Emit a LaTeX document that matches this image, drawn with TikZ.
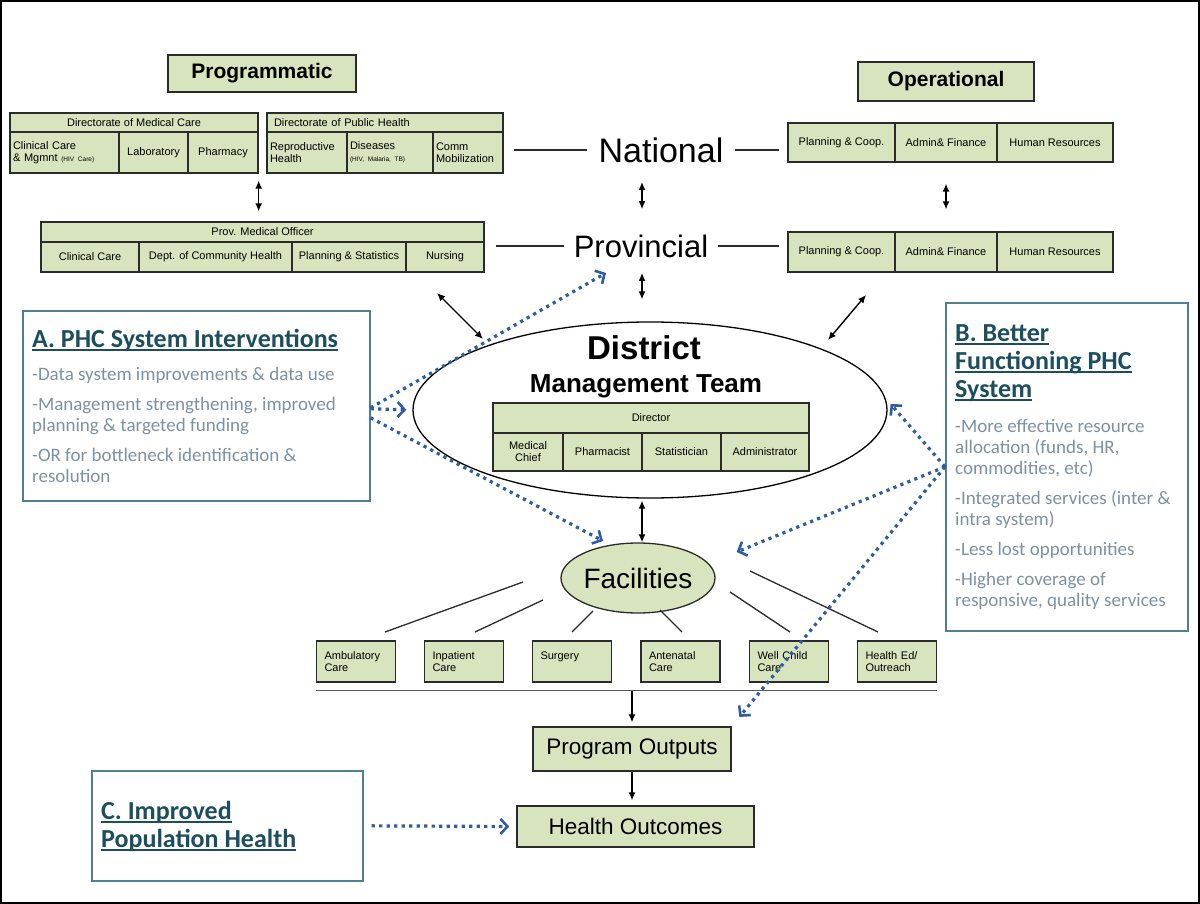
\documentclass[tikz,border=0pt]{standalone}
\usepackage{fontspec}
\setmainfont{Liberation Sans}
\newfontfamily\boxfont{Carlito}
\usetikzlibrary{arrows.meta,shapes.geometric,calc}

\definecolor{cellgreen}{HTML}{D7E4BD}
\definecolor{celledge}{HTML}{2B2B2B}
\definecolor{boxedge}{HTML}{50808F}
\definecolor{titleteal}{HTML}{1C4E5E}
\definecolor{bodygray}{HTML}{7D91A1}
\definecolor{dotblue}{HTML}{2F5D9E}

\newcommand{\smallprint}{\fontsize{6.5}{7}\selectfont}
\newcommand{\ulbar}[1]{\setbox0\hbox{#1}\rlap{\rule[-3.5pt]{\wd0}{1.6pt}}\box0}

\tikzset{
  cell/.style={draw=celledge, line width=1.3pt, fill=cellgreen, inner xsep=3pt, inner ysep=2pt,
    font=\fontsize{11}{12}\selectfont, align=center},
  svc/.style={cell, text width=63pt, minimum height=41pt, inner xsep=8pt, align=left,
    font=\fontsize{11}{12.5}\selectfont},
  heading/.style={draw=celledge, line width=1.8pt, fill=cellgreen, font=\fontsize{21}{24}\selectfont\bfseries},
  result/.style={draw=celledge, line width=1.5pt, fill=cellgreen, font=\fontsize{22.5}{24}\selectfont},
  infobox/.style={draw=boxedge, line width=1.6pt, anchor=north west},
  boxhead/.style={anchor=north west, inner sep=0pt, align=left, text=titleteal,
    font=\boxfont\bfseries\fontsize{26}{28}\selectfont},
  boxtext/.style={anchor=north west, inner sep=0pt, align=left, text=bodygray,
    font=\boxfont\fontsize{19}{21}\selectfont},
  level/.style={font=\fontsize{33}{35}\selectfont},
  dbl/.style={{Latex[length=8pt,width=7pt]}-{Latex[length=8pt,width=7pt]}, line width=1.4pt},
  down/.style={-{Latex[length=8pt,width=7pt]}, line width=1.2pt},
  tie/.style={line width=1.3pt, draw=celledge},
  dots/.style={dotblue, line width=3.2pt, dash pattern=on 3.2pt off 4.3pt,
    -{Straight Barb[length=7pt,width=15pt,line width=2.6pt]}},
}

\begin{document}
\begin{tikzpicture}[x=1pt,y=-1pt]
    \useasboundingbox (0,0) rectangle (1200,904);
    \draw[line width=1.5pt] (1,1) rectangle (1199,903);
    % headings
    \node[heading, minimum width=188pt, minimum height=37pt] at (262,73.5) (prog) {Programmatic};
    \node[heading, minimum width=176pt, minimum height=39pt] at (946,81.5) (oper) {Operational};
    % national, programmatic side
    \node[cell, minimum width=248pt, minimum height=19pt] at (134,122.5) (dmc) {Directorate of Medical Care};
    \node[cell, text width=103pt, minimum height=41pt, align=left] at (64.5,152.5) (dmc_clin) {Clinical Care\\\& Mgmnt {\smallprint (HIV Care)}};
    \node[cell, minimum width=69pt, minimum height=41pt] at (153.5,152.5) (dmc_lab) {Laboratory};
    \node[cell, minimum width=70pt, minimum height=41pt] at (223,152.5) (dmc_pharm) {Pharmacy};
    \node[cell, text width=222pt, minimum height=19pt, inner xsep=7pt, align=left] at (385,122.5) (dph) {Directorate of Public Health};
    \node[cell, text width=74pt, minimum height=41pt, align=left] at (307,152.5) (dph_repro) {Reproductive\\Health};
    \node[cell, text width=80pt, minimum height=41pt, align=left] at (390,152.5) (dph_dis) {Diseases\\{\smallprint (HIV, Malaria, TB)}};
    \node[cell, text width=64pt, minimum height=41pt, align=left] at (468,152.5) (dph_comm) {Comm\\Mobilization};
    % provincial, programmatic side
    \node[cell, minimum width=443pt, minimum height=20pt] at (262.5,232) (pmo) {Prov. Medical Officer};
    \node[cell, minimum width=98pt, minimum height=30pt] at (90,257) (pmo_clin) {Clinical Care};
    \node[cell, minimum width=153pt, minimum height=30pt] at (215.5,257) (pmo_comm) {Dept. of Community Health};
    \node[cell, minimum width=114pt, minimum height=30pt] at (349,257) (pmo_plan) {Planning \& Statistics};
    \node[cell, minimum width=78pt, minimum height=30pt] at (445,257) (pmo_nurs) {Nursing};
    % operational side
    \node[cell, minimum width=107pt, minimum height=39pt] at (841.5,142.5) (op_nat_plan) {Planning \& Coop.};
    \node[cell, minimum width=102pt, minimum height=39pt] at (946,142.5) (op_nat_admin) {Admin\& Finance};
    \node[cell, minimum width=116pt, minimum height=39pt] at (1055,142.5) (op_nat_hr) {Human Resources};
    \node[cell, minimum width=107pt, minimum height=40pt] at (841.5,252) (op_prov_plan) {Planning \& Coop.};
    \node[cell, minimum width=102pt, minimum height=40pt] at (946,252) (op_prov_admin) {Admin\& Finance};
    \node[cell, minimum width=116pt, minimum height=40pt] at (1055,252) (op_prov_hr) {Human Resources};
    % levels
    \node[level, font=\fontsize{34}{36}\selectfont] at (661,150) (national) {National};
    \node[level, font=\fontsize{31}{33}\selectfont] at (641,246) (provincial) {Provincial};
    \draw[tie, shorten <=10pt, shorten >=8pt] (dph_comm.east |- national) -- (national.west);
    \draw[tie, shorten <=8pt, shorten >=8pt] (national.east) -- (op_nat_plan.west |- national);
    \draw[tie, shorten <=11pt, shorten >=6pt] (pmo_nurs.east |- provincial) -- (provincial.west);
    \draw[tie, shorten <=6pt, shorten >=8pt] (provincial.east) -- (op_prov_plan.west |- provincial);
    % district
    \node[draw, line width=1.3pt, ellipse, minimum width=474pt, minimum height=176pt] at (650,410) (district) {};
    \node[font=\fontsize{33}{35}\selectfont\bfseries] at (644,348) (dist_lbl) {District};
    \node[font=\fontsize{26}{28}\selectfont\bfseries] at (646,386) (mgmt_lbl) {Management Team};
    \node[cell, minimum width=316pt, minimum height=30pt] at (651,418) (dir) {Director};
    \node[cell, minimum width=70pt, minimum height=38pt] at (528,452) (dir_med) {Medical\\Chief};
    \node[cell, minimum width=79pt, minimum height=38pt] at (602.5,452) (dir_pharm) {Pharmacist};
    \node[cell, minimum width=79pt, minimum height=38pt] at (681.5,452) (dir_stat) {Statistician};
    \node[cell, minimum width=88pt, minimum height=38pt] at (765,452) (dir_admin) {Administrator};
    % facilities and services
    \node[draw=celledge, line width=1.3pt, fill=cellgreen, ellipse, minimum width=150pt, minimum height=70pt,
      inner sep=0pt, font=\fontsize{28}{30}\selectfont] at (638,578) (facilities) {Facilities};
    \node[svc] at (356,661.5) (svc_amb) {Ambulatory\\Care};
    \node[svc] at (464,661.5) (svc_inp) {Inpatient\\Care};
    \node[svc] at (572,661.5) (svc_surg) {Surgery\\~};
    \node[svc] at (680.5,661.5) (svc_ante) {Antenatal\\Care};
    \node[svc] at (789,661.5) (svc_well) {Well Child\\Care};
    \node[svc] at (897,661.5) (svc_hed) {Health Ed/\\Outreach};
    \foreach \xa/\ya/\xb/\yb in {523/582/385/632, 543/600/475/632, 593/611/572/632,
                                  660/610/682/632, 730/592/790/632, 750/571/878/632}
      \draw[tie] (\xa,\ya) -- (\xb,\yb);
    \coordinate (rule_l) at ([yshift=-8pt]svc_amb.south west);
    \coordinate (rule_r) at ([yshift=-8pt]svc_hed.south east);
    \draw[line width=1.5pt, draw=black!65] (rule_l) -- (rule_r);
    % outputs and outcomes
    \node[result, minimum width=198pt, minimum height=44pt] at (632,749) (progout) {Program Outputs};
    \node[result, minimum width=237pt, minimum height=41pt] at (635.5,826.5) (outcome) {Health Outcomes};
    \draw[down, shorten >=4pt] (rule_l -| progout.north) -- (progout.north);
    \draw[down, shorten >=5pt] (progout.south) -- (progout.south |- outcome.north);
    % vertical links
    \coordinate (spine) at (642,0);
    \draw[dbl, shorten <=7pt, shorten >=10pt] (dmc_pharm.south east) -- (dmc_pharm.south east |- pmo.north);
    \draw[dbl, shorten <=21pt, shorten >=22pt] (op_nat_admin.south) -- (op_prov_admin.north);
    \draw[dbl, shorten <=16pt, shorten >=22pt] (national.south -| spine) -- (provincial.north -| spine);
    \draw[dbl, shorten <=12pt, shorten >=22pt] (provincial.south -| spine) -- (district.north -| spine);
    \draw[dbl, shorten <=2pt] (district.south -| spine) -- (facilities.north -| spine);
    \coordinate (pmo_link) at (437,293);
    \coordinate (dmt_left) at (483,339);
    \coordinate (ops_link) at (866,295);
    \coordinate (dmt_right) at (828,340);
    \draw[dbl] (pmo_link) -- (dmt_left);
    \draw[dbl] (ops_link) -- (dmt_right);
    % A box
    \node[infobox, minimum width=347pt, minimum height=190pt] at (22,310) (abox) {};
    \node[boxhead] at (32,329) (a_title) {\ulbar{A. PHC System Interventions}};
    \node[boxtext] at (32,367) (a_text) {-Data system improvements \& data use\\[9pt]
      -Management strengthening, improved\\planning \& targeted funding\\[9pt]
      -OR for bottleneck identification \&\\resolution};
    % B box
    \node[infobox, minimum width=242pt, minimum height=328pt] at (945,302) (bbox) {};
    \node[boxhead] at (955,324) (b_title) {\ulbar{B. Better}\\\ulbar{Functioning PHC}\\\ulbar{System}};
    \node[boxtext] at (955,419) (b_text) {-More effective resource\\allocation (funds, HR,\\commodities, etc)\\[9pt]
      -Integrated services (inter \&\\intra system)\\[9pt]
      -Less lost opportunities\\[9pt]
      -Higher coverage of\\responsive, quality services};
    % C box
    \node[infobox, minimum width=271pt, minimum height=110pt] at (91,770) (cbox) {};
    \node[boxhead] at (101,801) (c_title) {\ulbar{C. Improved}\\\ulbar{Population Health}};
    % dotted influence arrows
    \draw[dots] ([yshift=-2pt]abox.east) -- ([shift={(-35pt,-12pt)}]provincial.south);
    \draw[dots, shorten >=6pt] ([yshift=-3pt]abox.east) -- (district.west);
    \draw[dots, shorten >=8pt] ([yshift=-12pt]abox.east) -- (facilities.130);
    \draw[dots] (bbox.west) -- ([shift={(3pt,6pt)}]district.east);
    \draw[dots] (bbox.west) -- ([shift={(21pt,26pt)}]facilities.east);
    \draw[dots, shorten >=12pt] (bbox.west) -- (progout.north east);
    \draw[dots, shorten <=8pt, shorten >=7pt] (cbox.east) -- (outcome.west);
\end{tikzpicture}
\end{document}
